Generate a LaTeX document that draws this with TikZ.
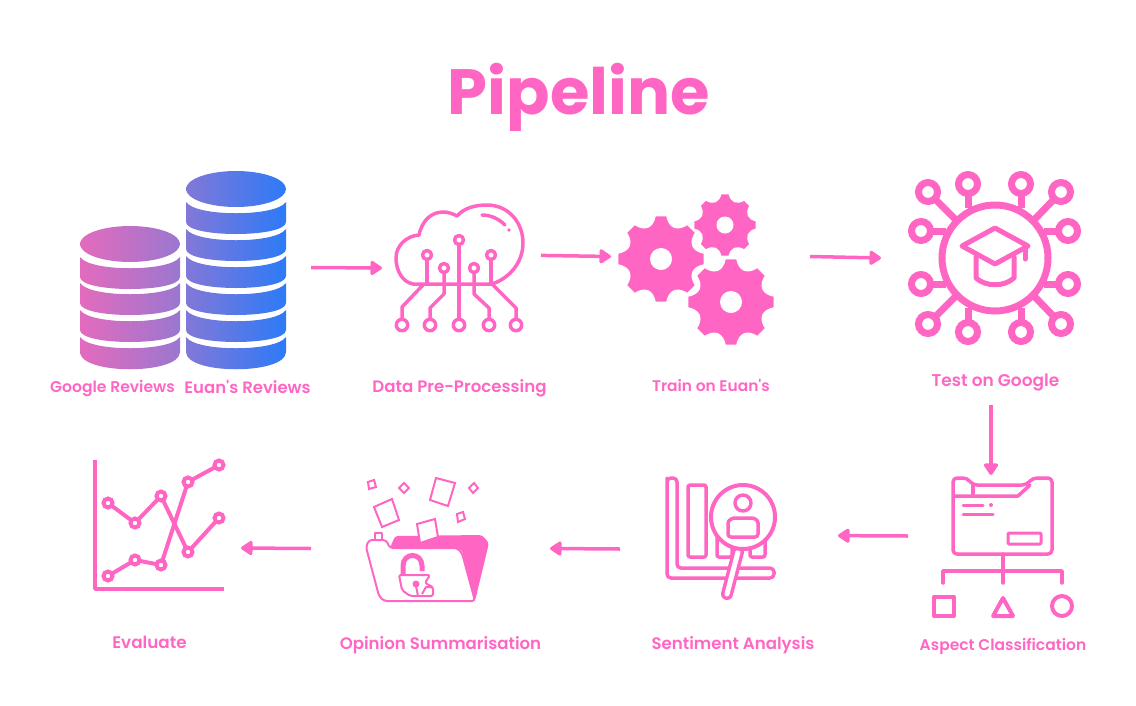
\documentclass[tikz,border=0pt]{standalone}
\usepackage{fontspec}
\newfontfamily\capfont{Poppins}[BoldFont={Poppins SemiBold}]
\newfontfamily\headfont{Poppins}
\usepackage{xcolor}
\usepackage{tikz}
\usetikzlibrary{arrows.meta, positioning}

\definecolor{hotpink}{HTML}{FF66C4}
\definecolor{dbpink}{HTML}{E36BBD}
\definecolor{dbmauve}{HTML}{9A77D0}
\definecolor{dbviolet}{HTML}{8278D8}
\definecolor{dbblue}{HTML}{2D7AF7}

\begin{document}
\begin{tikzpicture}[
        x=1pt, y=-1pt,
        slot/.style={rectangle, draw=none, inner sep=0pt, outer sep=0pt},
        caption/.style={text=hotpink, anchor=base, font=\fontsize{#1}{18}\selectfont\capfont\bfseries, inner sep=0pt},
        arrow/.style={-{Triangle[length=13pt, width=16pt, round]}, line width=3.5pt, draw=hotpink},
        icon/.style={draw=hotpink, line width=3.5pt, line join=round, line cap=round},
        thinicon/.style={draw=hotpink, line width=2pt, line join=round},
        hub/.style={draw=hotpink, line width=7pt},
        dot/.style={draw=hotpink, fill=white, line width=4pt},
        paper/.style={draw=hotpink, fill=white, line width=2pt}
    ]
    \useasboundingbox (0,0) rectangle (1136,705);

    % Title
    \node[text=hotpink, anchor=base, font=\fontsize{64}{70}\selectfont\headfont\bfseries, inner sep=0pt] (title) at (579,114) {Pipeline};

    % Slots the arrows run between
    \node[slot, minimum width=241pt, minimum height=205pt] (reviews) at (190.5,267.5) {};
    \node[slot, minimum width=159pt, minimum height=135pt] (cloud) at (461.5,268) {};
    \node[slot, minimum width=199pt, minimum height=150pt] (gears) at (710.5,256.5) {};
    \node[slot, minimum width=220pt, minimum height=294pt] (test) at (991,258) {};
    \node[slot, minimum width=166pt, minimum height=122pt] (aspect) at (991,536) {};
    \node[slot, minimum width=218pt, minimum height=120pt] (sentiment) at (729,549) {};
    \node[slot, minimum width=239pt, minimum height=120pt] (opinion) at (430.5,548.5) {};
    \node[slot, minimum width=161pt, minimum height=140pt] (evaluate) at (160.5,548) {};

    % Captions
    \node[caption=15.6] (googlecap) at (112.5,392) {Google Reviews};
    \node[caption=16.5] (euancap) at (247.5,393) {Euan's Reviews};
    \node[caption=16.6] (cloudcap) at (459.5,392) {Data Pre-Processing};
    \node[caption=15.4] (gearscap) at (711,391) {Train on Euan's};
    \node[caption=17] (testcap) at (995.5,386) {Test on Google};
    \node[caption=15.5] (aspectcap) at (1003,650) {Aspect Classification};
    \node[caption=16.6] (sentimentcap) at (733,649) {Sentiment Analysis};
    \node[caption=16.6] (opinioncap) at (440.5,649) {Opinion Summarisation};
    \node[caption=16.8] (evaluatecap) at (149.5,648) {Evaluate};

    % Databases
    \shade[left color=dbpink, right color=dbmauve] (130,244) ellipse [x radius=50pt, y radius=18pt];
    \foreach \t in {257,283,310}
        \shade[left color=dbpink, right color=dbmauve] (80,\t) .. controls (90,\t+15) and (170,\t+15) .. (180,\t) -- (180,\t+20) .. controls (180,\t+36) and (80,\t+36) .. (80,\t+20) -- cycle;
    \shade[left color=dbpink, right color=dbmauve] (80,337) .. controls (90,352) and (170,352) .. (180,337) -- (180,352) .. controls (180,375) and (80,375) .. (80,352) -- cycle;

    \shade[left color=dbviolet, right color=dbblue] (236,189) ellipse [x radius=50pt, y radius=18pt];
    \foreach \t in {202,229,256,283,310}
        \shade[left color=dbviolet, right color=dbblue] (186,\t) .. controls (196,\t+15) and (276,\t+15) .. (286,\t) -- (286,\t+20) .. controls (286,\t+36) and (186,\t+36) .. (186,\t+20) -- cycle;
    \shade[left color=dbviolet, right color=dbblue] (186,337) .. controls (196,352) and (276,352) .. (286,337) -- (286,352) .. controls (286,375) and (186,375) .. (186,352) -- cycle;

    % Cloud
    \draw[icon] (413,284) .. controls (402,282) and (396,270) .. (396,258) .. controls (396,246) and (406,236) .. (419,235) .. controls (422,220) and (432,212) .. (443,212) .. controls (449,212) and (453,214) .. (457,216) .. controls (464,208) and (475,205) .. (487,205) .. controls (508,205) and (523,222) .. (523,243) .. controls (523,262) and (510,278) .. (492,284) -- cycle;
    \draw[icon] (482,215) .. controls (491,215) and (499,219) .. (505,225);
    \fill[hotpink] (509,230) circle (1.8pt);
    \draw[icon] (427,259) -- (427,284);
    \draw[icon] (491,259) -- (491,284);
    \draw[icon] (444,272) -- (444,294) -- (430,308) -- (430,319);
    \draw[icon] (459,245) -- (459,319);
    \draw[icon] (474,272) -- (474,294) -- (489,308) -- (489,319);
    \draw[icon] (423,285) -- (402,307) -- (402,319);
    \draw[icon] (493,285) -- (516,308) -- (516,319);
    \foreach \x/\y/\r in {427/255/4.5, 444/268/4.5, 459/240/4.5, 474/268/4.5, 491/255/4.5, 402/325/5.7, 430/325/5.7, 459/325/5.7, 489/325/5.7, 516/325/5.7}
        \draw[icon, fill=white] (\x,\y) circle (\r pt);

    % Gears
    \foreach \cx/\cy/\R/\r/\h in {725/225/32/24/8.5, 661/259/44/32.5/11, 731/302/44/32.5/11} {
        \begin{scope}[shift={(\cx,\cy)}]
            \filldraw[fill=hotpink, draw=white, line width=2pt, line join=round] (-8:\R) \foreach \a in {0,45,...,315} { -- (\a-8:\R) -- (\a+8:\R) .. controls (\a+15:\r) and (\a+30:\r) .. (\a+37:\R) } -- cycle;
            \fill[white] (0,0) circle (\h pt);
        \end{scope}
    }

    % Graduate hub
    \foreach \x/\y/\ex/\ey in {928/192/957/221, 1061/192/1033/221, 928/324/957/295, 1061/324/1033/295, 968/184/968/208, 1021/184/1021/208, 968/332/968/308, 1021/332/1021/308, 921/231/946/231, 1068/231/1044/231, 921/284/946/284, 1068/284/1044/284}
        \draw[hub] (\x,\y) -- (\ex,\ey);
    \foreach \x/\y in {928/192, 1061/192, 928/324, 1061/324, 968/184, 1021/184, 968/332, 1021/332, 921/231, 1068/231, 921/284, 1068/284}
        \draw[hub, fill=white] (\x,\y) circle (9.5pt);
    \draw[hub, fill=white] (995,258) circle (53pt);
    \draw[icon, line width=5pt] (995,228) -- (962,246) -- (995,264) -- (1028,246) -- cycle;
    \draw[icon, line width=5pt] (1025,247) -- (1025,259);
    \draw[icon, line width=5pt] (976,257) -- (976,278) .. controls (986,287) and (1004,287) .. (1014,278) -- (1014,257);

    % Folder and tree
    \draw[icon, rounded corners=4pt] (973,485) -- (967,478) -- (953,478) -- (953,554) -- (1052,554) -- (1052,478) -- (1033,478) -- (1026,485) -- cycle;
    \draw[icon] (955,496) -- (1018,496) -- (1030,485);
    \draw[icon] (973,485) -- (973,496);
    \draw[icon, line width=3pt] (963,505) -- (983,505);
    \fill[hotpink] (991,505) circle (2pt);
    \draw[icon, line width=3pt] (963,514) -- (993,514);
    \draw[icon, line width=3pt, rounded corners=1pt] (1008,533) rectangle (1041,544);
    \draw[icon] (1003,554) -- (1003,583);
    \draw[icon] (943,583) -- (943,571) -- (1062,571) -- (1062,583);
    \draw[icon, line width=4pt] (934,597) rectangle (954,616);
    \draw[icon, line width=4pt] (1003,598) -- (993,616) -- (1013,616) -- cycle;
    \draw[icon, line width=4pt] (1062,606) circle (10pt);

    % Chart under magnifier
    \draw[icon, rounded corners=4pt] (667,482) -- (667,478) -- (677,478) -- (677,568) -- (774,568) -- (774,578) -- (667,578) -- cycle;
    \draw[icon, rounded corners=2pt] (688,485) rectangle (706,557);
    \draw[icon, rounded corners=2pt] (717,535) rectangle (732,557);
    \draw[icon, rounded corners=2pt] (750,535) rectangle (765,557);
    \draw[icon, line width=12pt] (738,552) -- (727,594);
    \draw[draw=white, line width=5pt, line cap=round] (738,552) -- (727,594);
    \draw[icon, line width=4pt, fill=white] (743,517) circle (32pt);
    \draw[icon] (743,503) circle (8pt);
    \draw[icon, rounded corners=3pt] (728,537) -- (728,526) .. controls (728,520) and (733,518) .. (737,518) -- (749,518) .. controls (754,518) and (758,520) .. (758,526) -- (758,537) -- cycle;

    % Open folder
    \fill[hotpink, rounded corners=3pt] (390,548) -- (395,536) -- (482,535) -- (489,543) -- (475,601) -- (462,550) -- (457,548) -- cycle;
    \draw[thinicon] (375,540) -- (375,533) -- (382,533) -- (382,540);
    \draw[thinicon, rounded corners=3pt] (366,547) -- (369,540) -- (386,540) -- (390,548) -- (457,548) -- (462,553) -- (475,601) -- (384,601) -- (379,596) -- cycle;
    \foreach \ax/\ay/\bx/\by/\cx/\cy/\dx/\dy in {436/478/455/483/448/506/430/500, 374/507/392/499/399/520/382/527, 417/524/435/519/438/537/420/543, 368/482/374/480/376/487/369/489, 399/488/404/483/409/488/404/493, 469/488/474/483/478/488/473/493, 457/514/463/512/465/519/458/522}
        \draw[paper] (\ax,\ay) -- (\bx,\by) -- (\cx,\cy) -- (\dx,\dy) -- cycle;
    \draw[hotpink, line width=5pt] (403,574) -- (403,566) .. controls (403,552) and (422,552) .. (422,566) -- (422,571);
    \draw[thinicon, rounded corners=2pt] (399,575) -- (430,575) -- (425,583) -- (433,587) -- (433,596) -- (410,596) -- (402,590) -- cycle;
    \fill[hotpink] (416,584) circle (3.5pt);
    \draw[thinicon] (416,586) -- (418,596);
    \draw[thinicon] (422,594) -- (426,587) -- (433,587);

    % Line chart
    \draw[icon, line cap=butt] (95,460) -- (95,589) -- (224,589);
    \draw[icon, line width=4pt] (108,503) -- (135,523) -- (161,496) -- (188,552) -- (219,518);
    \draw[icon, line width=4pt] (108,576) -- (135,560) -- (161,565) -- (188,482) -- (219,465);
    \foreach \x/\y in {108/503, 135/523, 161/496, 188/552, 219/518, 108/576, 135/560, 161/565, 188/482, 219/465}
        \draw[dot] (\x,\y) circle (4.5pt);

    % Flow
    \draw[arrow] (reviews.east) -- (cloud.west);
    \draw[arrow] (cloud.9) -- (gears.west);
    \draw[arrow] (gears.east) -- (test.west);
    \draw[arrow] (test.south) -- (aspect.north);
    \draw[arrow] (aspect.west) -- (sentiment.7);
    \draw[arrow] (sentiment.west) -- (opinion.east);
    \draw[arrow] (opinion.west) -- (evaluate.east);

\end{tikzpicture}
\end{document}
